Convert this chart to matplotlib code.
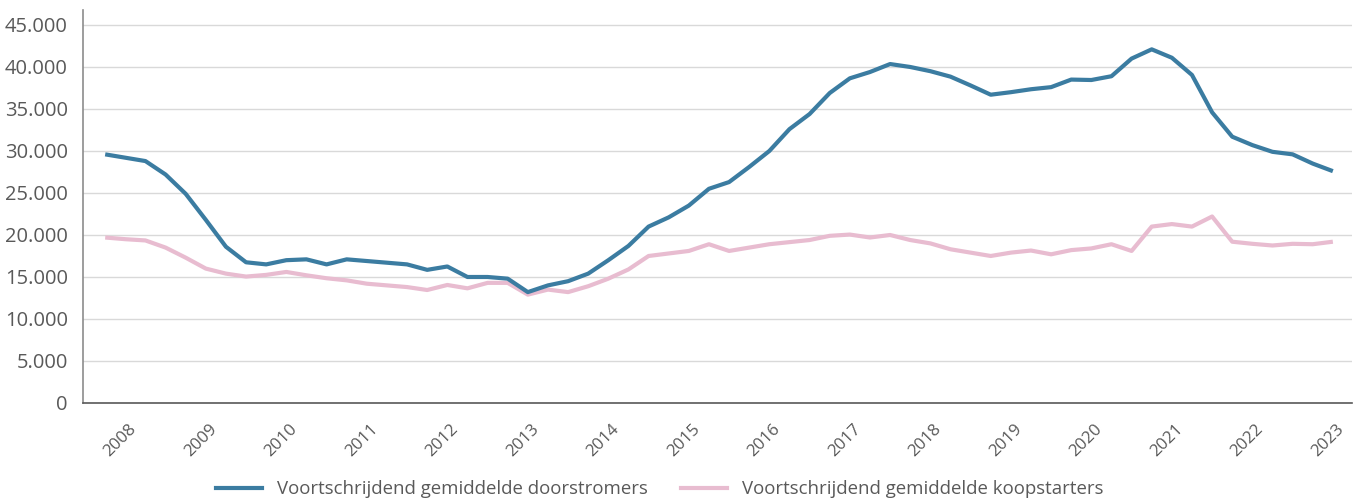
import numpy as np
import matplotlib.pyplot as plt
from matplotlib.lines import Line2D

# kwartaalcijfers, voortschrijdend gemiddelde (aantal transacties)
doorstromers = [29600, 29200, 28800, 27200, 24900, 21800, 18600, 16750, 16500, 17000,
                17100, 16500, 17100, 16900, 16700, 16500, 15850, 16250, 15000, 15000,
                14800, 13200, 14000, 14500, 15400, 17000, 18700, 21000, 22100, 23500,
                25500, 26300, 28100, 30000, 32600, 34400, 36900, 38650, 39400, 40350,
                40000, 39500, 38850, 37800, 36700, 37000, 37350, 37600, 38500, 38450,
                38900, 41000, 42100, 41100, 39050, 34600, 31700, 30700, 29900, 29600,
                28500, 27600]
koopstarters = [19700, 19500, 19350, 18500, 17300, 16000, 15400, 15050, 15250, 15600,
                15200, 14850, 14600, 14200, 14000, 13800, 13450, 14050, 13650, 14300,
                14300, 12900, 13500, 13200, 13900, 14800, 15900, 17500, 17800, 18100,
                18900, 18100, 18500, 18900, 19150, 19400, 19900, 20050, 19700, 20000,
                19400, 19000, 18300, 17900, 17500, 17900, 18150, 17700, 18200, 18400,
                18900, 18100, 21000, 21300, 21000, 22200, 19200, 18950, 18750, 18950,
                18900, 19200]
jaren = [str(j) for j in range(2008, 2024)]

blauw = '#3B7CA1'
roze = '#E8BCD0'
tekstkleur = '#595959'

fig = plt.figure(figsize=(13.57, 4.99), dpi=100)
ax = fig.add_axes([0.0612, 0.1924, 0.9351, 0.7876])

x = np.arange(len(doorstromers))
ax.plot(x, doorstromers, color=blauw, linewidth=3, solid_capstyle='butt', zorder=3)
ax.plot(x, koopstarters, color=roze, linewidth=3, solid_capstyle='butt', zorder=2)

ax.set_xlim(-1.1, 61.95)
ax.set_ylim(0, 46786)
ax.set_yticks(range(0, 45001, 5000))
ax.set_yticklabels([f'{v:,}'.replace(',', '.') for v in range(0, 45001, 5000)],
                   fontsize=14.5, color=tekstkleur, family='Open Sans')
ax.yaxis.grid(True, color='#D9D9D9', linewidth=1)
ax.set_axisbelow(True)

ax.set_xticks(np.arange(len(jaren)) * 4 + 0.75)
ax.set_xticklabels(jaren, rotation=45, ha='center', va='top', fontsize=12.2,
                   color=tekstkleur, family='Open Sans')
ax.tick_params(axis='x', length=0, pad=13)
ax.tick_params(axis='y', length=0, pad=11)

for s in ['top', 'right']:
    ax.spines[s].set_visible(False)
ax.spines['left'].set_color('#8C8C8C')
ax.spines['bottom'].set_color('#595959')
ax.spines['left'].set_linewidth(1.2)
ax.spines['bottom'].set_linewidth(1.2)

handles = [Line2D([], [], color=blauw, linewidth=3),
           Line2D([], [], color=roze, linewidth=3)]
leg = fig.legend(handles, ['Voortschrijdend gemiddelde doorstromers',
                           'Voortschrijdend gemiddelde koopstarters'],
                 loc='center', bbox_to_anchor=(0.486, 0.02), ncol=2, frameon=False,
                 prop={'family': 'Open Sans', 'size': 13.4},
                 handlelength=2.47, handletextpad=0.8, columnspacing=1.8)
for t in leg.get_texts():
    t.set_color(tekstkleur)

fig.savefig('out.png', dpi=100)
